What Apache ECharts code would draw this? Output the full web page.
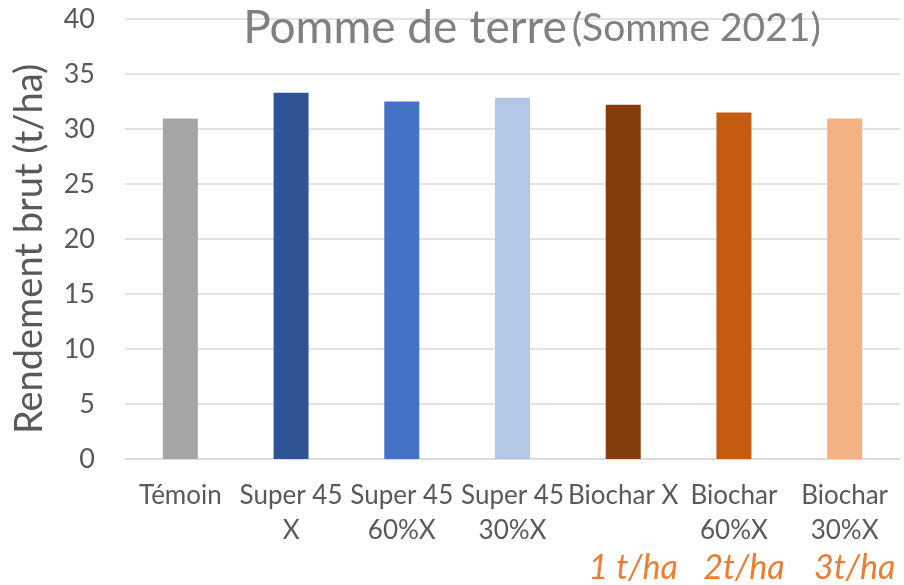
<!DOCTYPE html>
<html>
<head>
<meta charset="utf-8">
<script src="https://cdn.jsdelivr.net/npm/echarts@6/dist/echarts.min.js"></script>
<style>html,body{margin:0;padding:0;background:#fff}#c{width:904px;height:585px}</style>
</head>
<body>
<div id="c"></div>
<script>
const categories = ['Témoin', 'Super 45\nX', 'Super 45\n60%X', 'Super 45\n30%X', 'Biochar X', 'Biochar\n60%X', 'Biochar\n30%X'];
const doses = ['', '', '', '', '1 t/ha', '2t/ha', '3t/ha'];
const values = [30.95, 33.3, 32.5, 32.85, 32.2, 31.5, 30.95];
const colors = ['#A5A5A5', '#2F5597', '#4472C4', '#B4C7E7', '#843C0C', '#C55A11', '#F4B183'];
const yTicks = [0, 5, 10, 15, 20, 25, 30, 35, 40];

const FONT = 'Lato';
const chart = echarts.init(document.getElementById('c'), null, {renderer: 'canvas'});
chart.setOption({
  animation: false,
  title: {
    text: '{a|Pomme de terre} {b|(Somme 2021)}',
    left: 527,
    textAlign: 'center',
    top: 0,
    textStyle: {
      fontWeight: 'normal',
      rich: {
        a: {fontFamily: FONT, fontSize: 46, fontWeight: 'normal', color: '#808080'},
        b: {fontFamily: FONT, fontSize: 39, fontWeight: 'normal', color: '#808080'}
      }
    }
  },
  grid: {left: 125, right: 4, top: 19, bottom: 126, containLabel: false, outerBoundsMode: 'none'},
  xAxis: {
    type: 'category',
    data: categories,
    axisLine: {lineStyle: {color: '#D9D9D9', width: 1.5}},
    axisTick: {show: false},
    axisLabel: {
      interval: 0,
      margin: 19,
      color: '#595959',
      fontFamily: FONT,
      fontSize: 26,
      lineHeight: 35,
      formatter: function (v, i) {
        const lines = v.split('\n');
        let s = lines.map(l => '{t|' + l + '}').join('\n');
        if (doses[i]) {
          if (lines.length === 1) s += '\n{t| }';
          s += '\n{o|' + doses[i] + '}';
        }
        return s;
      },
      rich: {
        t: {fontFamily: FONT, fontSize: 26, color: '#595959', lineHeight: 35},
        o: {fontFamily: FONT, fontSize: 34, fontStyle: 'italic', color: '#ED7D31', lineHeight: 41, padding: [0, 0, 0, 20]}
      }
    }
  },
  yAxis: {
    type: 'value',
    min: 0,
    max: 40,
    interval: 5,
    name: 'Rendement brut (t/ha)',
    nameLocation: 'middle',
    nameGap: 76,
    nameTextStyle: {fontFamily: FONT, fontSize: 38, color: '#595959', padding: [0, 20, 0, 0]},
    axisLine: {show: false},
    axisTick: {show: false},
    axisLabel: {
      margin: 30,
      color: '#595959',
      fontFamily: FONT,
      fontSize: 27,
      formatter: v => yTicks.includes(v) ? String(v) : ''
    },
    splitLine: {lineStyle: {color: '#D9D9D9', width: 1.5}}
  },
  series: [{
    type: 'bar',
    data: values.map((v, i) => ({value: v, itemStyle: {color: colors[i]}})),
    barWidth: 35
  }]
});
</script>
</body>
</html>
